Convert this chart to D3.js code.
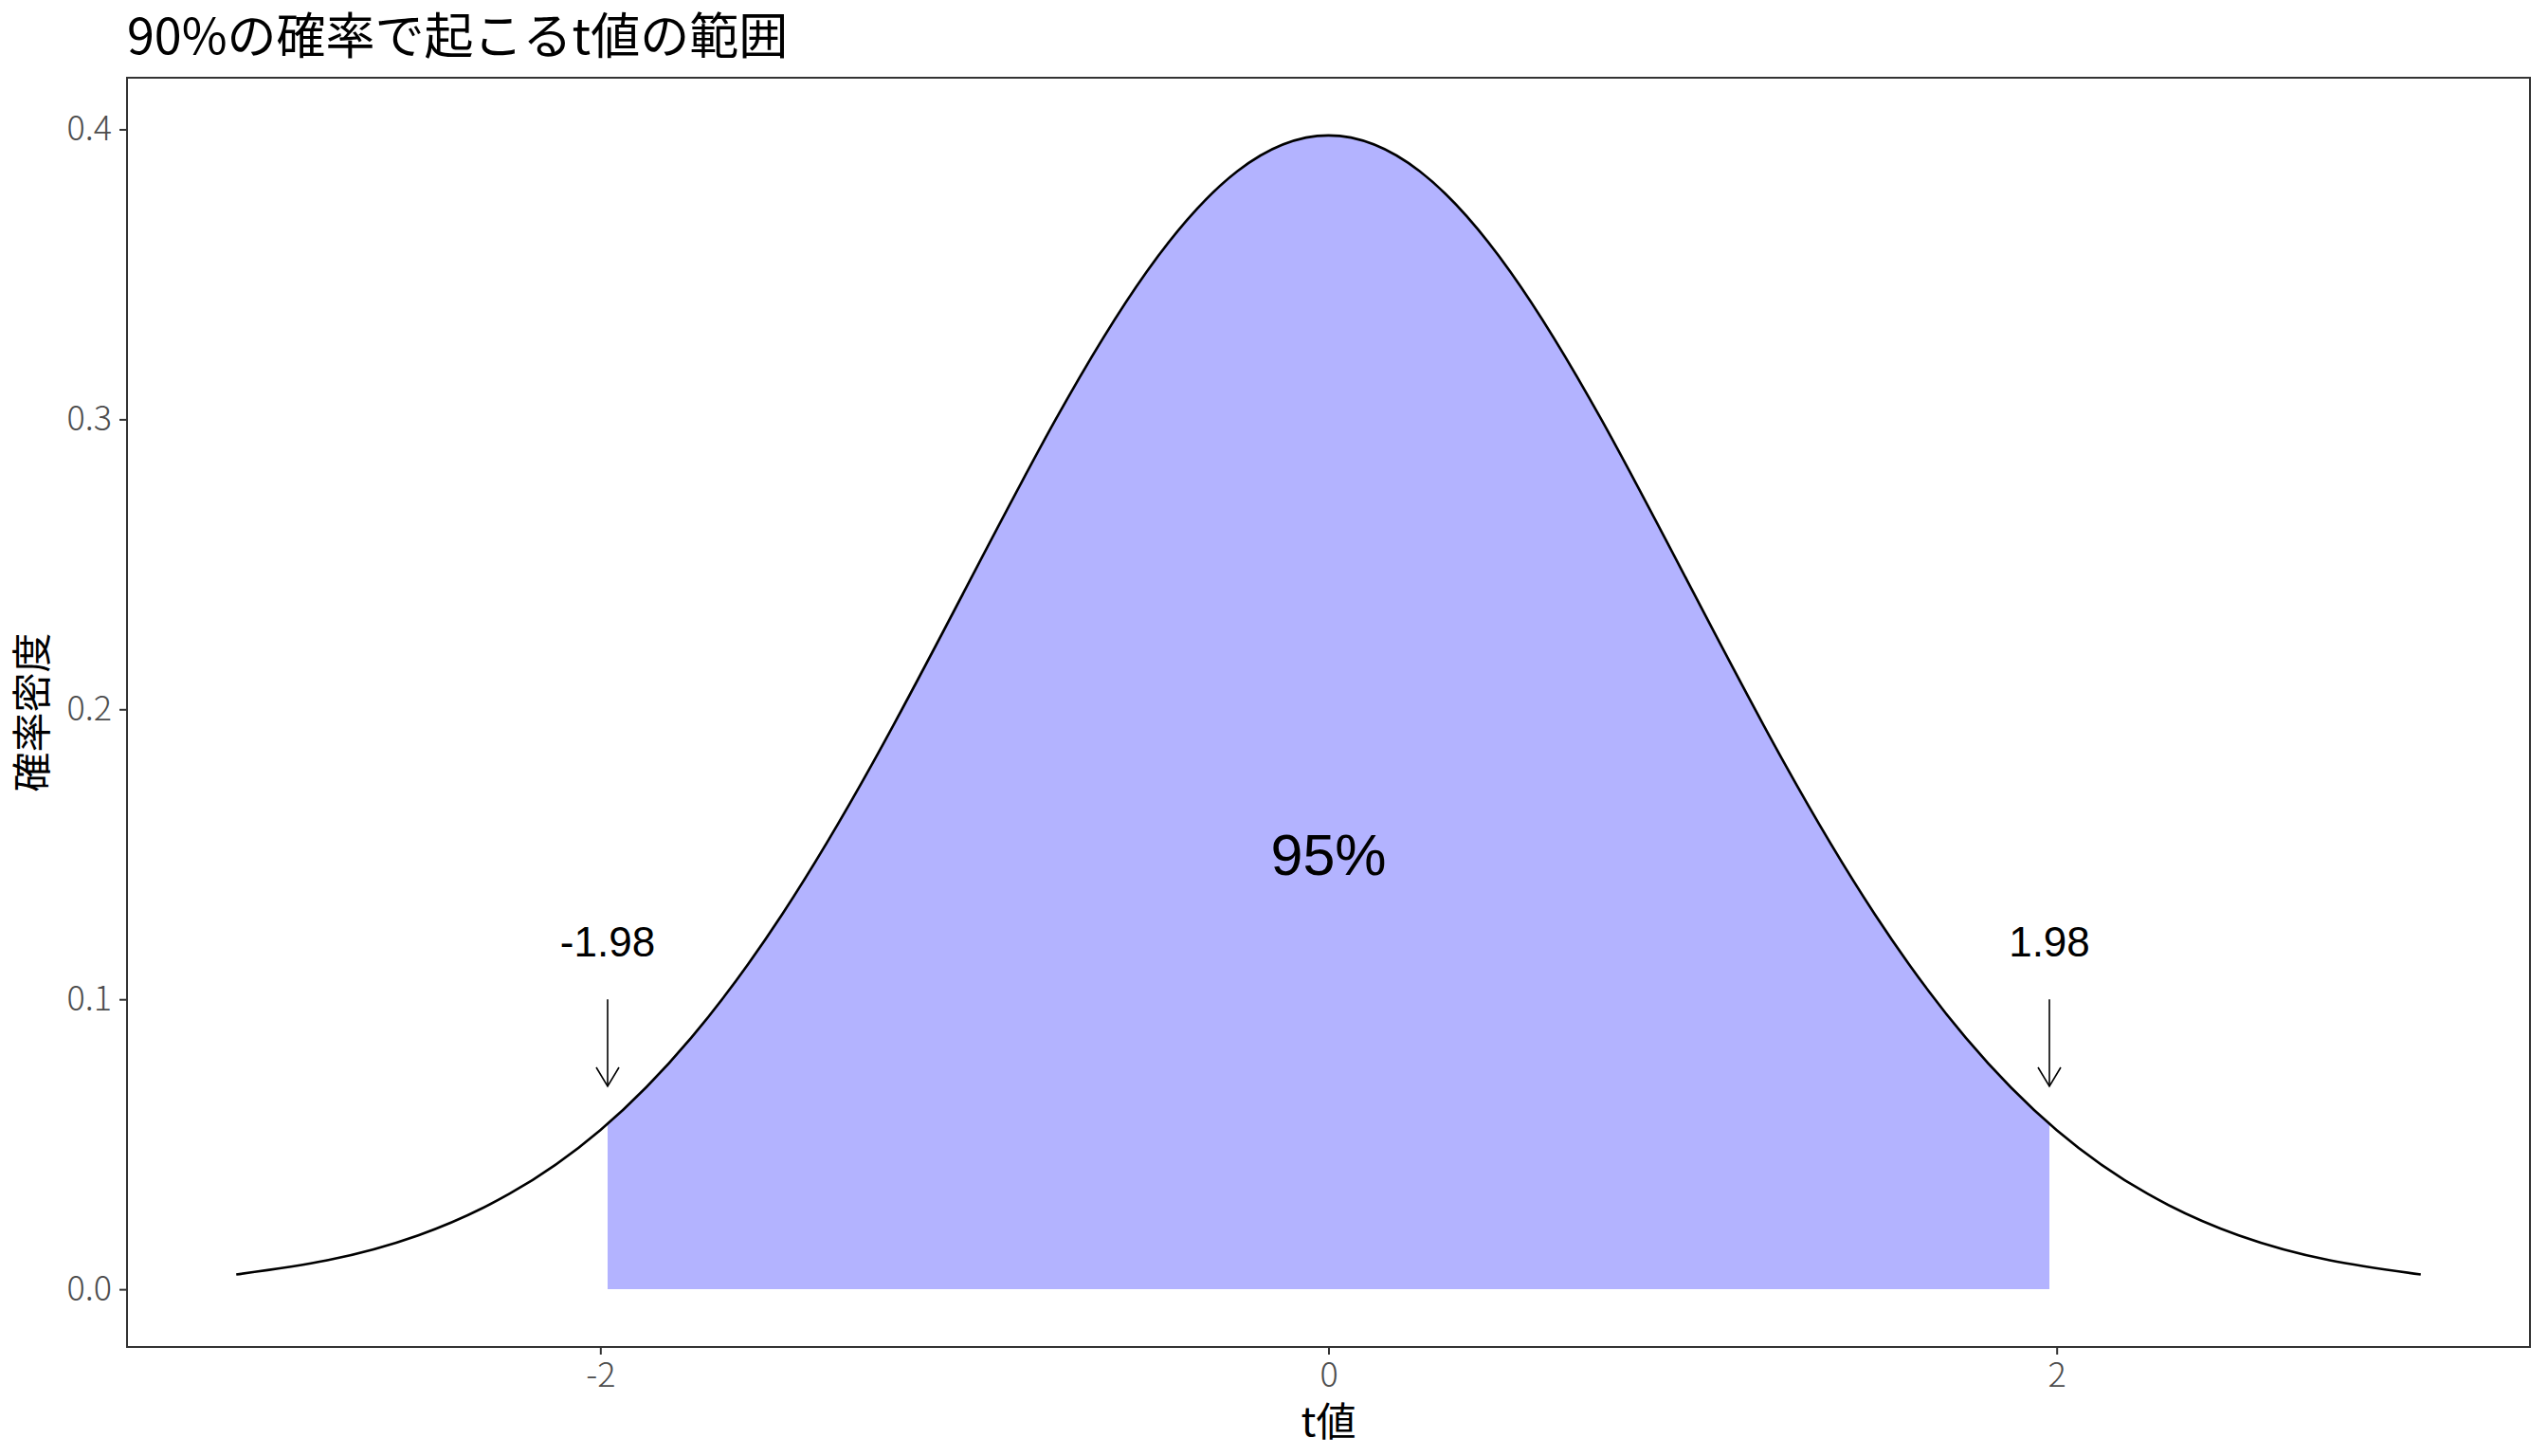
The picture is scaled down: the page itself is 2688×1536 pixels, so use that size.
<!DOCTYPE html>
<html lang="ja">
<head>
<meta charset="UTF-8">
<title>90%の確率で起こるt値の範囲</title>
<script src="https://d3js.org/d3.v7.min.js"></script>
<style>
  body { margin: 0; background: #fff; }
  svg { display: block; }
  .tick text { font-family: "Noto Sans CJK JP", "Noto Sans", sans-serif; font-weight: 300; fill: #4d4d4d; }
</style>
</head>
<body>
<svg id="chart" width="2688" height="1536"></svg>
<script>
// density curve
const curveX = [-3, -2.75, -2.5, -2.25, -2, -1.75, -1.5, -1.25, -1, -0.75, -0.5, -0.25, 0,
                0.25, 0.5, 0.75, 1, 1.25, 1.5, 1.75, 2, 2.25, 2.5, 2.75, 3];
const curveY = [0.0051, 0.0100, 0.0186, 0.0329, 0.0549, 0.0868, 0.1294, 0.1819, 0.2408, 0.2998, 0.3508, 0.3856, 0.3979,
                0.3856, 0.3508, 0.2998, 0.2408, 0.1819, 0.1294, 0.0868, 0.0549, 0.0329, 0.0186, 0.0100, 0.0051];

// shaded 95% region
const fillX = [-1.98, -1.75, -1.5, -1.25, -1, -0.75, -0.5, -0.25, 0, 0.25, 0.5, 0.75, 1, 1.25, 1.5, 1.75, 1.98];
const fillY = [0.0571, 0.0868, 0.1294, 0.1819, 0.2408, 0.2998, 0.3508, 0.3856, 0.3979, 0.3856, 0.3508, 0.2998, 0.2408, 0.1819, 0.1294, 0.0868, 0.0571];

const critX = [-1.98, 1.98];
const critLabels = ["-1.98", "1.98"];
const xTicks = [-2, 0, 2];
const yTicks = [0.0, 0.1, 0.2, 0.3, 0.4];

const svg = d3.select("#chart");
const margin = {left: 134, right: 2688 - 2669, top: 82, bottom: 1536 - 1421};
const W = 2688 - margin.left - margin.right;
const H = 1536 - margin.top - margin.bottom;

const x = d3.scaleLinear().domain([-3.3, 3.3]).range([0, W]);
const y = d3.scaleLinear().domain([-0.0199, 0.4178]).range([H, 0]);

const g = svg.append("g").attr("transform", `translate(${margin.left},${margin.top})`);

// fill
const area = d3.area()
    .x((d, i) => x(fillX[i]))
    .y0(y(0))
    .y1((d, i) => y(fillY[i]))
    .curve(d3.curveNatural);
g.append("path").datum(fillX).attr("d", area).attr("fill", "#b3b3ff");

// curve
const line = d3.line()
    .x((d, i) => x(curveX[i]))
    .y((d, i) => y(curveY[i]))
    .curve(d3.curveNatural);
g.append("path").datum(curveX).attr("d", line)
    .attr("fill", "none").attr("stroke", "#000").attr("stroke-width", 2.6);

// arrows + labels
critX.forEach((cx, i) => {
  const px = x(cx), y1 = y(0.1), y2 = y(0.07);
  g.append("line").attr("x1", px).attr("x2", px).attr("y1", y1).attr("y2", y2)
      .attr("stroke", "#000").attr("stroke-width", 1.6);
  g.append("path")
      .attr("d", `M${px - 12},${y2 - 20}L${px},${y2}L${px + 12},${y2 - 20}`)
      .attr("fill", "none").attr("stroke", "#000").attr("stroke-width", 1.6);
  g.append("text").attr("x", px).attr("y", y(0.12)).attr("dy", "0.36em")
      .attr("text-anchor", "middle")
      .attr("font-family", "'Liberation Sans', Arial, sans-serif")
      .attr("font-size", 44).text(critLabels[i]);
});

g.append("text").attr("x", x(0)).attr("y", y(0.15)).attr("dy", "0.36em")
    .attr("text-anchor", "middle")
    .attr("font-family", "'Liberation Sans', Arial, sans-serif")
    .attr("font-size", 61).text("95%");

// axes
const xAxis = g.append("g").attr("transform", `translate(0,${H})`)
    .call(d3.axisBottom(x).tickValues(xTicks).tickSize(8).tickPadding(8).tickFormat(d3.format("d")));
const yAxis = g.append("g")
    .call(d3.axisLeft(y).tickValues(yTicks).tickSize(8).tickPadding(8).tickFormat(d3.format(".1f")));
[xAxis, yAxis].forEach(a => {
  a.select(".domain").remove();
  a.selectAll(".tick line").attr("stroke", "#333").attr("stroke-width", 2);
  a.selectAll(".tick text").attr("font-size", 36);
});
xAxis.selectAll(".tick text").text(d => d < 0 ? "-" + Math.abs(d) : d);

// panel border
g.append("rect").attr("width", W).attr("height", H)
    .attr("fill", "none").attr("stroke", "#333").attr("stroke-width", 2);

// titles
svg.append("text").attr("x", 134).attr("y", 57)
    .attr("font-family", "'Noto Sans CJK JP', sans-serif")
    .attr("font-size", 52).attr("fill", "#000").text("90%の確率で起こるt値の範囲");

svg.append("text").attr("x", margin.left + W / 2).attr("y", 1515)
    .attr("text-anchor", "middle")
    .attr("font-family", "'Noto Sans CJK JP', sans-serif")
    .attr("font-size", 42).text("t値");

svg.append("text")
    .attr("transform", `translate(49,${margin.top + H / 2}) rotate(-90)`)
    .attr("text-anchor", "middle")
    .attr("font-family", "'Noto Sans CJK JP', sans-serif")
    .attr("font-size", 42).text("確率密度");
</script>
</body>
</html>
